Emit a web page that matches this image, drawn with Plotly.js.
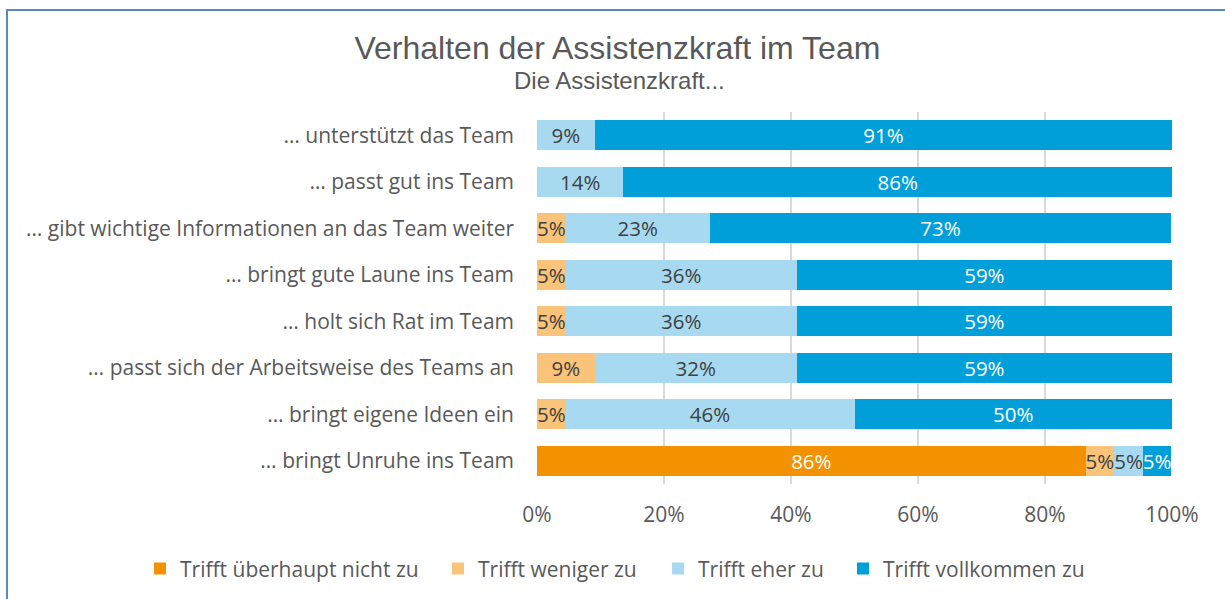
<!DOCTYPE html>
<html>
<head>
<meta charset="utf-8">
<script src="https://cdn.plot.ly/plotly-3.0.1.min.js"></script>
<style>
  html, body { margin: 0; padding: 0; background: #fff; overflow: hidden; }
  #frame { position: absolute; left: 6px; top: 9px; width: 1300px; height: 700px; border: 2px solid #5B87C5; box-sizing: border-box; pointer-events: none; z-index: 5; }
  #chart { position: absolute; left: 0; top: 0; width: 1225px; height: 599px; }
</style>
</head>
<body>
<div id="chart"></div>
<div id="frame"></div>
<script>
const categories = [
  "… unterstützt das Team",
  "… passt gut ins Team",
  "… gibt wichtige Informationen an das Team weiter",
  "… bringt gute Laune ins Team",
  "… holt sich Rat im Team",
  "… passt sich der Arbeitsweise des Teams an",
  "… bringt eigene Ideen ein",
  "… bringt Unruhe ins Team"
];
const seriesNames = ["Trifft überhaupt nicht zu", "Trifft weniger zu", "Trifft eher zu", "Trifft vollkommen zu"];
const ueberhauptNicht = [0, 0, 0, 0, 0, 0, 0, 86.4];
const weniger        = [0, 0, 4.5, 4.5, 4.5, 9.1, 4.5, 4.5];
const eher           = [9.1, 13.6, 22.7, 36.4, 36.4, 31.8, 45.5, 4.5];
const vollkommen     = [90.9, 86.4, 72.7, 59.1, 59.1, 59.1, 50.0, 4.5];
const xTicks = [0, 20, 40, 60, 80, 100];
const xTickLabels = ["0%", "20%", "40%", "60%", "80%", "100%"];
const titleText = "Verhalten der Assistenzkraft im Team";
const subtitleText = "Die Assistenzkraft...";

const colors = ["#F39200", "#F9C37A", "#A7DAF1", "#009FDA"];
const textColors = ["#ffffff", "#404040", "#404040", "#ffffff"];
const labelFont = "'Open Sans', Lato, sans-serif";
const titleFont = "'Liberation Sans', Arial, sans-serif";
const legendIds = ["legend", "legend2", "legend3", "legend4"];
const legendX = [-0.6252, -0.1559, 0.1906, 0.4819];

const series = [ueberhauptNicht, weniger, eher, vollkommen];
const traces = series.map((vals, i) => ({
  type: "bar",
  orientation: "h",
  name: seriesNames[i],
  legend: legendIds[i],
  y: categories,
  x: vals,
  text: vals.map(v => v > 0 ? Math.round(v) + "%" : ""),
  textposition: "inside",
  insidetextanchor: "middle",
  textangle: 0,
  constraintext: "none",
  textfont: { family: labelFont, size: 20.5, color: textColors[i] },
  marker: { color: colors[i], line: { width: 0 } },
  hoverinfo: "skip",
  cliponaxis: false
}));

const layout = {
  width: 1225,
  height: 599,
  barmode: "stack",
  bargap: 0.36,
  paper_bgcolor: "#ffffff",
  plot_bgcolor: "#ffffff",
  margin: { l: 537, r: 53, t: 112, b: 115, pad: 0, autoexpand: false },
  title: {
    text: titleText,
    font: { family: titleFont, size: 32, color: "#595959" },
    x: 0.504, xref: "container", xanchor: "center",
    y: 0.92, yref: "container", yanchor: "middle"
  },
  annotations: [{
    text: subtitleText,
    xref: "paper", yref: "paper",
    x: 0.13, y: 1.086, xanchor: "center", yanchor: "middle",
    showarrow: false,
    font: { family: titleFont, size: 24, color: "#595959" }
  }],
  xaxis: {
    range: [0, 100],
    tickvals: xTicks,
    ticktext: xTickLabels,
    showgrid: true,
    gridcolor: "#D9D9D9",
    gridwidth: 1.5,
    zeroline: false,
    showline: false,
    ticks: "",
    ticklabelstandoff: 16,
    tickfont: { family: labelFont, size: 21, color: "#595959" },
    fixedrange: true
  },
  yaxis: {
    autorange: "reversed",
    showgrid: false,
    zeroline: false,
    showline: false,
    ticks: "",
    ticklabelstandoff: 22,
    tickfont: { family: labelFont, size: 21, color: "#595959" },
    fixedrange: true
  },
  showlegend: true
};

legendIds.forEach((id, i) => {
  layout[id] = {
    orientation: "h",
    xref: "paper", yref: "paper",
    x: legendX[i], xanchor: "left",
    y: -0.228, yanchor: "middle",
    bgcolor: "rgba(0,0,0,0)",
    font: { family: labelFont, size: 21, color: "#595959" },
    itemclick: false, itemdoubleclick: false
  };
});

Plotly.newPlot("chart", traces, layout, { displayModeBar: false, staticPlot: true });
</script>
</body>
</html>
